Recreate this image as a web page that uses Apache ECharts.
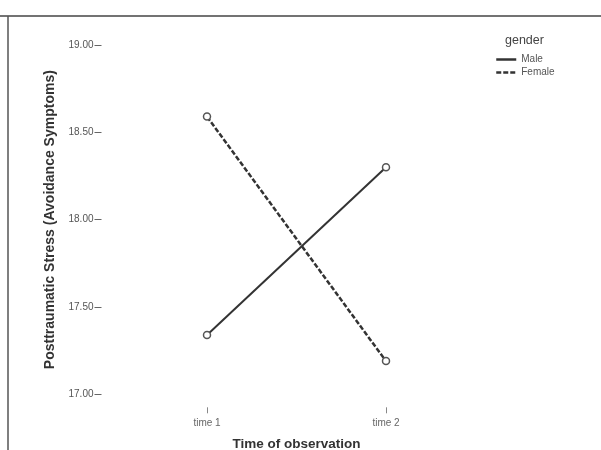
<!DOCTYPE html>
<html>
<head>
<meta charset="utf-8">
<script src="https://cdn.jsdelivr.net/npm/echarts@6/dist/echarts.min.js"></script>
<style>
    html, body { margin: 0; padding: 0; background: #fff; }
    #chart { width: 601px; height: 450px; }
</style>
</head>
<body>
<div id="chart"></div>
<script>
(function() {
    'use strict';

    // 观测时间
    var timePoints = ['time 1', 'time 2'];
    var maleValues = [17.34, 18.30];
    var femaleValues = [18.59, 17.19];
    var legendNames = ['Male', 'Female'];

    var ink = '#333';
    var font = '"Liberation Sans", Arial, sans-serif';

    var option = {
        backgroundColor: '#fff',
        animation: false,
        title: {
            text: 'gender',
            left: 505,
            top: 34,
            padding: 0,
            textStyle: {
                fontFamily: font,
                fontWeight: 'normal',
                fontSize: 12.5,
                color: '#444'
            }
        },
        legend: {
            orient: 'vertical',
            left: 495,
            top: 54,
            padding: 0,
            itemWidth: 20,
            itemHeight: 11,
            itemGap: 2,
            itemStyle: { opacity: 0 },
            lineStyle: { width: 2.5 },
            textStyle: {
                fontFamily: font,
                fontSize: 10,
                lineHeight: 11,
                color: '#555'
            },
            data: legendNames
        },
        grid: {
            left: 117.5,
            width: 358,
            top: 45,
            bottom: 55.7,
            outerBoundsMode: 'none',
            containLabel: false
        },
        xAxis: {
            type: 'category',
            data: timePoints,
            offset: 13,
            name: 'Time of observation',
            nameLocation: 'middle',
            nameGap: 30,
            nameTextStyle: {
                fontFamily: font,
                fontWeight: 'bold',
                fontSize: 13.5,
                color: ink
            },
            axisLine: { show: false },
            axisTick: {
                show: true,
                alignWithLabel: true,
                length: 6,
                lineStyle: { color: '#888' }
            },
            axisLabel: {
                margin: 11,
                fontFamily: font,
                fontSize: 10,
                color: '#666'
            },
            splitLine: { show: false }
        },
        yAxis: {
            type: 'value',
            min: 17,
            max: 19,
            interval: 0.5,
            offset: 16,
            name: 'Posttraumatic Stress (Avoidance Symptoms)',
            nameLocation: 'middle',
            nameRotate: 90,
            nameGap: 40,
            nameTextStyle: {
                fontFamily: font,
                fontWeight: 'bold',
                fontSize: 14,
                color: ink
            },
            axisLine: { show: false },
            axisTick: {
                show: true,
                length: 7,
                lineStyle: { color: '#666' }
            },
            axisLabel: {
                margin: 8,
                fontFamily: font,
                fontSize: 10,
                color: '#555',
                formatter: function(v) { return v.toFixed(2); }
            },
            splitLine: { show: false }
        },
        series: [{
            name: legendNames[0],
            type: 'line',
            data: maleValues,
            showSymbol: true,
            symbol: 'circle',
            symbolSize: 7,
            color: ink,
            lineStyle: { color: ink, width: 2, type: 'solid' },
            itemStyle: { color: '#fff', borderColor: '#555', borderWidth: 1.5 },
            z: 3
        }, {
            name: legendNames[1],
            type: 'line',
            data: femaleValues,
            showSymbol: true,
            symbol: 'circle',
            symbolSize: 7,
            color: ink,
            lineStyle: { color: ink, width: 2.5, type: [5, 2] },
            itemStyle: { color: '#fff', borderColor: '#555', borderWidth: 1.5 },
            z: 3
        }],
        graphic: [{
            type: 'line',
            shape: { x1: 0, y1: 16, x2: 601, y2: 16 },
            style: { stroke: '#444', lineWidth: 1.5 }
        }, {
            type: 'line',
            shape: { x1: 8, y1: 16, x2: 8, y2: 450 },
            style: { stroke: '#555', lineWidth: 1.5 }
        }]
    };

    var myChart = echarts.init(document.getElementById('chart'));
    myChart.setOption(option);
})();
</script>
</body>
</html>
